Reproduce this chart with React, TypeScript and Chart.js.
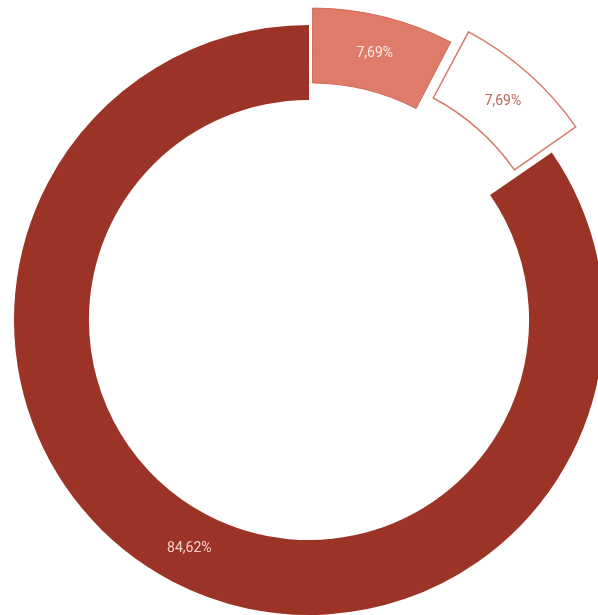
import React, { useEffect, useRef } from "react";
import { Chart, registerables } from "chart.js";

Chart.register(...registerables);

const categories = ["A", "B", "C"];
const values = [1, 1, 11];
const fillColors = ["#DE7B69", "#FFFFFF", "#9B3426"];
const borderColors = ["#D06A58", "#D97A6C", "#9B3426"];
const borderWidths = [1, 1.5, 0];
const explode = [45, 91, 0];
const labelColors = ["rgba(255,240,236,0.95)", "#C0645A", "rgba(255,225,220,0.9)"];

const fmtPct = (v: number, total: number) =>
  ((v / total) * 100).toFixed(2).replace(".", ",") + "%";

const labelPlugin = {
  id: "sliceLabels",
  afterDatasetsDraw(chart: any) {
    const ctx = chart.ctx;
    const meta = chart.getDatasetMeta(0);
    const data = chart.data.datasets[0].data as number[];
    const total = data.reduce((a, b) => a + b, 0);
    ctx.save();
    ctx.font = "14px Roboto";
    ctx.textAlign = "center";
    ctx.textBaseline = "middle";
    meta.data.forEach((el: any, i: number) => {
      const { x, y, startAngle, endAngle, innerRadius, outerRadius } = el.getProps(
        ["x", "y", "startAngle", "endAngle", "innerRadius", "outerRadius"],
        true
      );
      const q = (el.options.offset || 0) / 4;
      const circ = endAngle - startAngle;
      const fix = 1 - Math.sin(Math.min(Math.PI, circ));
      const mid = (startAngle + endAngle) / 2;
      const r = (innerRadius + outerRadius) / 2 + q * fix + q;
      ctx.fillStyle = labelColors[i];
      ctx.fillText(fmtPct(data[i], total), x + Math.cos(mid) * r, y + Math.sin(mid) * r);
    });
    ctx.restore();
  },
};

export default function App() {
  const ref = useRef<HTMLCanvasElement | null>(null);
  useEffect(() => {
    if (!ref.current) return;
    const chart = new Chart(ref.current, {
      type: "doughnut",
      data: {
        labels: categories,
        datasets: [
          {
            data: values,
            backgroundColor: fillColors,
            borderColor: borderColors,
            borderWidth: borderWidths,
            offset: explode,
            borderJoinStyle: "miter",
          } as any,
        ],
      },
      options: {
        responsive: false,
        maintainAspectRatio: false,
        animation: false,
        radius: 295,
        cutout: "74.6%",
        layout: { padding: 0 },
        plugins: {
          legend: { display: false },
          tooltip: { enabled: false },
        },
        events: [],
      } as any,
      plugins: [labelPlugin],
    });
    return () => chart.destroy();
  }, []);
  return (
    <div
      style={{
        position: "fixed",
        left: 0,
        top: 0,
        width: 598,
        height: 615,
        overflow: "hidden",
        background: "#fff",
      }}
    >
      <canvas
        ref={ref}
        width={700}
        height={700}
        style={{ position: "absolute", left: -41, top: -30, width: 700, height: 700 }}
      />
    </div>
  );
}
